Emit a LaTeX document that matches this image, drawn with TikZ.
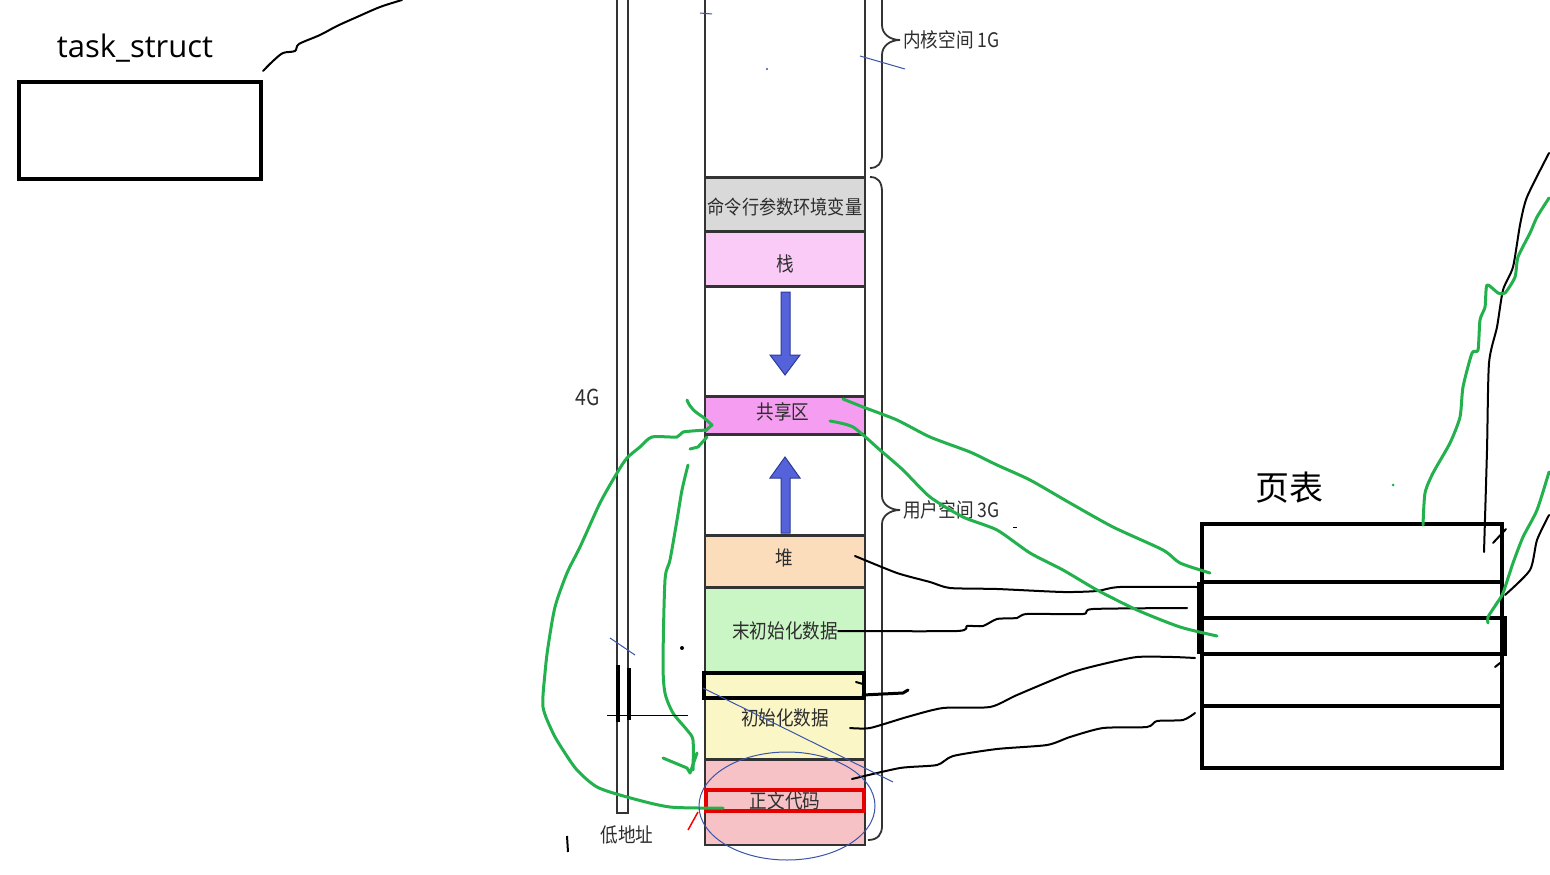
\documentclass[tikz,border=0pt]{standalone}
\usepackage{fontspec}
\setmainfont{Open Sans}
\newfontfamily\cjk{Noto Sans CJK SC}
\newfontfamily\cjkn[FakeStretch=0.88]{Noto Sans CJK SC}
\definecolor{pgreen}{HTML}{22B14C}
\definecolor{penblue}{HTML}{3A55A8}
\definecolor{colline}{HTML}{333333}
\definecolor{txtgray}{HTML}{2E2E2E}
\definecolor{cgray}{HTML}{D9D9D9}
\definecolor{cstack}{HTML}{F9CBF6}
\definecolor{cshare}{HTML}{F59DF0}
\definecolor{cheap}{HTML}{FBDDBB}
\definecolor{cbss}{HTML}{C9F6C4}
\definecolor{cdata}{HTML}{FBF6C6}
\definecolor{ctext}{HTML}{F6C2C6}
\definecolor{arrowfill}{HTML}{5563DA}
\definecolor{arrowline}{HTML}{2C3A9A}
\begin{document}
\begin{tikzpicture}[x=1pt,y=-1pt,
  cell/.style={draw=colline, line width=2pt},
  sep/.style={draw=colline, line width=3pt},
  grn/.style={draw=pgreen, line width=3pt, line cap=round, line join=round},
  ink/.style={draw=black, line width=2pt, line cap=round, line join=round},
  pen/.style={draw=penblue, line width=1pt},
  lbl/.style={font=\cjkn\fontsize{20}{22}\selectfont, text=txtgray, inner sep=0pt},
  thickbox/.style={draw=black, line width=4pt},
]
\useasboundingbox (0,0) rectangle (1550,875);
\fill[white] (0,0) rectangle (1550,875);

% ---------- task_struct ----------
\node[font=\fontsize{31}{35}\selectfont, inner sep=0pt] (ts) at (135,48) {task\_struct};
\node[thickbox, minimum width=242pt, minimum height=97pt, inner sep=0pt, outer sep=0pt] (tsbox) at (140,130.5) {};
\draw[ink] plot[smooth, tension=0.5] coordinates {(263,71) (273,61) (283,53) (295,51) (299,44) (320,35) (337,26) (357,17) (380,7) (402,0)};

% ---------- 4G bar ----------
\draw[draw=colline, line width=2pt, fill=white] (617,-5) -- (617,813) -- (628,813) -- (628,-5);
\node[lbl, font=\cjkn\fontsize{22}{24}\selectfont] (g4) at (588,397) {4G};
\node[lbl] (low) at (627,835) {低地址};

% ---------- memory column ----------
\fill[cgray]  (705,177) rectangle (865,231);
\fill[cstack] (705,231) rectangle (865,286);
\fill[cshare] (705,396) rectangle (865,434);
\fill[cheap]  (705,535) rectangle (865,587);
\fill[cbss]   (705,587) rectangle (865,672);
\fill[cdata]  (705,672) rectangle (865,759);
\fill[ctext]  (705,759) rectangle (865,845);
\draw[cell] (705,-5) -- (705,845) -- (865,845) -- (865,-5);
\foreach \yy in {177,231,286,396,434,535,587,759} \draw[sep] (705,\yy) -- (865,\yy);

% arrows
\draw[draw=arrowline, fill=arrowfill, line width=1pt] (781,292) -- (790,292) -- (790,355) -- (800,355) -- (785,375) -- (770,355) -- (781,355) -- cycle;
\draw[draw=arrowline, fill=arrowfill, line width=1pt] (785,457) -- (800,478) -- (790,478) -- (790,533) -- (781,533) -- (781,478) -- (770,478) -- cycle;

% labels
\node[lbl, font=\cjkn\fontsize{19.5}{22}\selectfont] (cmd) at (785,207) {命令行参数环境变量};
\node[lbl] (stack) at (785,264) {栈};
\node[lbl] (shared) at (783,412) {共享区};
\node[lbl] (heap) at (784,558) {堆};
\node[lbl] (bss) at (785,631) {末初始化数据};
\node[lbl] (data) at (785,718) {初始化数据};
\node[lbl] (code) at (785,801) {正文代码};

% black rect and red rect
\draw[thickbox] (704,673) rectangle (864,698);
\draw[draw=red!90!black, line width=3.5pt] (706,790) rectangle (864,811);

% braces
\draw[draw=colline, line width=1.8pt] (882,-5) -- (882,25) .. controls (882,34) and (890,40) .. (900,40) .. controls (890,40) and (882,46) .. (882,55) -- (882,155) .. controls (882,163) and (878,168) .. (870,168);
\draw[draw=colline, line width=1.8pt] (870,177) .. controls (878,177) and (882,182) .. (882,192) -- (882,496) .. controls (882,504) and (890,510) .. (900,510) .. controls (890,510) and (882,516) .. (882,524) -- (882,826) .. controls (882,834) and (878,840) .. (868,840);
\node[lbl, anchor=west] (kernel) at (903,40) {内核空间 1G};
\node[lbl, anchor=west] (user) at (903,510) {用户空间 3G};

% ---------- page table ----------
\node[font=\cjk\fontsize{34}{38}\selectfont, inner sep=0pt] (pt) at (1289,488) {页表};
\node[thickbox, minimum width=300pt, minimum height=244pt, inner sep=0pt, outer sep=0pt] (ptbox) at (1352,646) {};
\foreach \yy in {582,618,654,706} \draw[thickbox] (1200,\yy) -- (1502,\yy);
\draw[line width=4pt] (1199,582) -- (1199,654);
\draw[line width=5pt] (1504,616) -- (1504,656);

% ---------- black connectors ----------
\draw[ink] plot[smooth, tension=0.4] coordinates {(855,556) (897,573) (930,582) (950,588) (997,589) (1063,592) (1097,591) (1120,587) (1197,587)};
\draw[ink] plot[smooth, tension=0.4] coordinates {(838,631) (957,631) (967,626) (983,626) (997,619) (1017,618) (1027,614) (1083,614) (1093,609) (1187,608)};
\draw[ink, line width=3pt] (863,695) -- (903,693) -- (908,690);
\draw[ink] (856,682) -- (863,684);
\draw[ink] plot[smooth, tension=0.4] coordinates {(850,728) (870,728) (907,717) (943,708) (990,707) (1017,695) (1070,673) (1103,664) (1137,657) (1173,657) (1195,658)};
\draw[ink] plot[smooth, tension=0.4] coordinates {(852,779) (900,768) (937,765) (953,756) (997,749) (1047,745) (1070,737) (1103,728) (1147,727) (1157,721) (1183,720) (1195,713)};

% right-hand strokes
\draw[ink] plot[smooth, tension=0.4] coordinates {(1549,153) (1527,197) (1520,225) (1513,267) (1503,290) (1497,327) (1489,363) (1487,450) (1484,552)};
\draw[ink] plot[smooth, tension=0.4] coordinates {(1549,515) (1537,540) (1530,570) (1505,595)};
\draw[ink] (1493,543) -- (1506,529);
\draw[ink] (1495,667) -- (1500,663);

% ---------- green strokes ----------
\draw[grn] plot[smooth, tension=0.4] coordinates {(843,399) (863,407) (897,420) (930,437) (970,452) (997,465) (1030,480) (1070,503) (1113,527) (1163,550) (1180,563) (1210,573)};
\draw[grn] plot[smooth, tension=0.4] coordinates {(830,421) (853,427) (880,450) (903,470) (930,497) (963,517) (997,530) (1030,553) (1063,570) (1097,590) (1137,610) (1180,627) (1217,636)};
\draw[grn] plot[smooth, tension=0.45] coordinates {(723,808) (670,807) (627,797) (597,787) (577,770) (563,750) (553,733) (543,707) (545,673) (548,647) (555,607) (567,573) (580,547) (600,503) (617,473) (627,458) (640,447) (652,437) (677,437) (683,432) (707,430)};
\draw[grn] (687,400) .. controls (690,408) and (695,412) .. (703,417) -- (712,425) -- (705,431);
\draw[grn] (690,449) -- (698,447) -- (707,437);
\draw[grn] plot[smooth, tension=0.45] coordinates {(688,465) (682,490) (677,520) (670,560) (665,580) (663,663) (665,693) (673,713) (687,730) (693,740) (693,770)};
\draw[grn] (663,758) -- (687,768) -- (690,773) -- (697,753);
\draw[grn] plot[smooth, tension=0.4] coordinates {(1423,525) (1425,493) (1433,473) (1450,443) (1460,417) (1463,387) (1472,353) (1478,350) (1480,320) (1485,307) (1487,285) (1498,293) (1505,293) (1515,277) (1518,257) (1530,233) (1537,217) (1549,198)};
\draw[grn] plot[smooth, tension=0.4] coordinates {(1488,623) (1488,617) (1497,603) (1503,593) (1513,563) (1523,537) (1537,510) (1549,472)};
\fill[pgreen] (1393,485) circle (1.5pt);

% ---------- blue pen marks ----------
\draw[pen] (787,806) ellipse [x radius=88pt, y radius=54pt];
\draw[pen] (703,688) -- (893,782);
\draw[pen] (610,638) -- (635,655);
\draw[pen] (700,13) -- (712,14);
\draw[pen] (860,56) -- (905,69);
\fill[penblue] (767,69) circle (1.2pt);

% ---------- other small marks ----------
\draw[draw=black, line width=3.5pt] (618,665) -- (618,722);
\draw[draw=black, line width=3.5pt] (629,668) -- (629,720);
\draw[draw=black, line width=1pt] (607,715) -- (688,715);
\fill[black] (682,648) circle (2pt);
\draw[draw=black, line width=2pt] (567,836) -- (568,852);
\draw[draw=red, line width=1.5pt] (688,830) -- (698,812);
\draw[draw=black, line width=1pt] (1013,527) -- (1017,527);
\end{tikzpicture}
\end{document}
